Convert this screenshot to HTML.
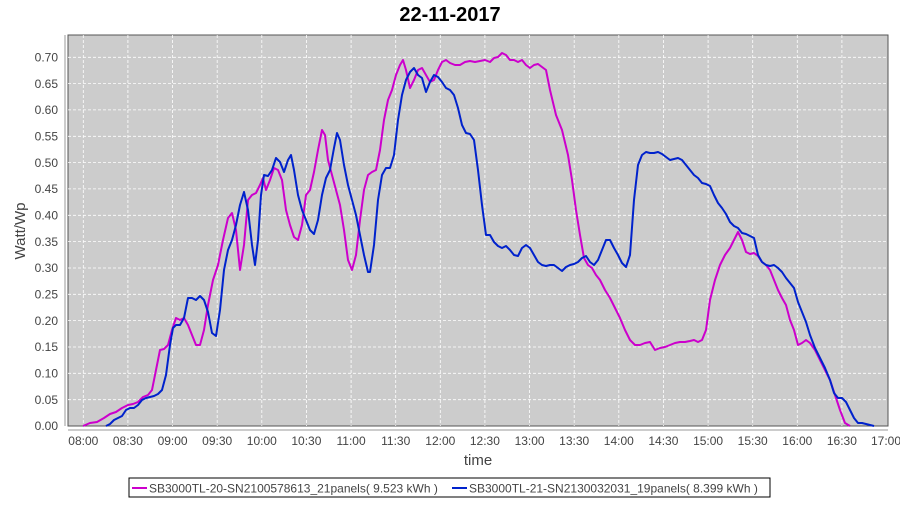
<!DOCTYPE html>
<html><head><meta charset="utf-8"><style>
body{margin:0;background:#fff;font-family:"Liberation Sans",sans-serif;}
</style></head><body>
<svg width="900" height="500" xmlns="http://www.w3.org/2000/svg" font-family="Liberation Sans, sans-serif">
<rect width="900" height="500" fill="#fff"/>
<text x="450" y="21" text-anchor="middle" font-size="20" font-weight="bold" fill="#000">22-11-2017</text>
<rect x="68" y="35" width="820" height="391" fill="#cccccc" stroke="#555" stroke-width="1"/>
<g stroke="#fff" stroke-width="0.8" stroke-dasharray="3,2">
<line x1="68" x2="888" y1="399.7" y2="399.7"/><line x1="68" x2="888" y1="373.3" y2="373.3"/><line x1="68" x2="888" y1="347" y2="347"/><line x1="68" x2="888" y1="320.6" y2="320.6"/><line x1="68" x2="888" y1="294.3" y2="294.3"/><line x1="68" x2="888" y1="268" y2="268"/><line x1="68" x2="888" y1="241.6" y2="241.6"/><line x1="68" x2="888" y1="215.3" y2="215.3"/><line x1="68" x2="888" y1="188.9" y2="188.9"/><line x1="68" x2="888" y1="162.6" y2="162.6"/><line x1="68" x2="888" y1="136.3" y2="136.3"/><line x1="68" x2="888" y1="109.9" y2="109.9"/><line x1="68" x2="888" y1="83.6" y2="83.6"/><line x1="68" x2="888" y1="57.3" y2="57.3"/>
<line y1="35" y2="426" x1="83.3" x2="83.3"/><line y1="35" y2="426" x1="127.9" x2="127.9"/><line y1="35" y2="426" x1="172.6" x2="172.6"/><line y1="35" y2="426" x1="217.2" x2="217.2"/><line y1="35" y2="426" x1="261.8" x2="261.8"/><line y1="35" y2="426" x1="306.4" x2="306.4"/><line y1="35" y2="426" x1="351.1" x2="351.1"/><line y1="35" y2="426" x1="395.7" x2="395.7"/><line y1="35" y2="426" x1="440.3" x2="440.3"/><line y1="35" y2="426" x1="484.9" x2="484.9"/><line y1="35" y2="426" x1="529.6" x2="529.6"/><line y1="35" y2="426" x1="574.2" x2="574.2"/><line y1="35" y2="426" x1="618.8" x2="618.8"/><line y1="35" y2="426" x1="663.4" x2="663.4"/><line y1="35" y2="426" x1="708.1" x2="708.1"/><line y1="35" y2="426" x1="752.7" x2="752.7"/><line y1="35" y2="426" x1="797.3" x2="797.3"/><line y1="35" y2="426" x1="841.9" x2="841.9"/>
</g>
<g stroke="#999" stroke-width="1">
<line x1="65" y1="35" x2="65" y2="426"/><line x1="68" y1="430" x2="888" y2="430"/>
</g>
<g font-size="12" fill="#444" text-anchor="end">
<text x="58" y="430">0.00</text><text x="58" y="404">0.05</text><text x="58" y="377.5">0.10</text><text x="58" y="351">0.15</text><text x="58" y="325">0.20</text><text x="58" y="298.5">0.25</text><text x="58" y="272">0.30</text><text x="58" y="246">0.35</text><text x="58" y="219.5">0.40</text><text x="58" y="193">0.45</text><text x="58" y="167">0.50</text><text x="58" y="140.5">0.55</text><text x="58" y="114">0.60</text><text x="58" y="88">0.65</text><text x="58" y="61.5">0.70</text>
</g>
<g font-size="12" fill="#444" text-anchor="middle">
<text x="83.3" y="445">08:00</text><text x="127.9" y="445">08:30</text><text x="172.6" y="445">09:00</text><text x="217.2" y="445">09:30</text><text x="261.8" y="445">10:00</text><text x="306.4" y="445">10:30</text><text x="351.1" y="445">11:00</text><text x="395.7" y="445">11:30</text><text x="440.3" y="445">12:00</text><text x="484.9" y="445">12:30</text><text x="529.6" y="445">13:00</text><text x="574.2" y="445">13:30</text><text x="618.8" y="445">14:00</text><text x="663.4" y="445">14:30</text><text x="708.1" y="445">15:00</text><text x="752.7" y="445">15:30</text><text x="797.3" y="445">16:00</text><text x="841.9" y="445">16:30</text><text x="886" y="445">17:00</text>
</g>
<text x="478" y="465" text-anchor="middle" font-size="15" fill="#444">time</text>
<text transform="translate(25,231) rotate(-90)" text-anchor="middle" font-size="15" fill="#444">Watt/Wp</text>
<polyline fill="none" stroke="#cc00cc" stroke-width="2" stroke-linejoin="round" points="83,426 90,423 97,422 104,418 110,414 116,412 122,408 128,405 133,404 138,402 143,397 148,395 152,390 156,370 160,350 164,349 168,345 172,330 176,318 180,320 184,318 188,325 192,335 196,345 200,345 204,330 208,305 213,280 218,265 223,240 228,218 232,213 236,230 240,270 244,245 248,200 252,195 256,193 260,185 263,178 266,190 270,180 274,168 278,170 282,180 286,210 290,225 294,237 298,240 302,225 306,195 310,190 314,172 318,150 322,130 325,135 328,160 332,175 336,190 340,205 344,230 348,260 352,270 356,255 360,220 364,190 368,175 372,172 376,170 380,150 384,120 388,100 392,90 396,75 400,65 403,60 406,70 410,88 414,80 418,70 422,68 426,75 430,82 434,80 438,70 442,62 446,60 450,63 455,65 460,65 465,62 470,61 475,62 480,61 485,60 490,62 494,58 498,57 502,53 506,55 510,60 514,60 518,62 522,60 526,65 530,68 534,65 538,64 542,67 546,70 550,90 556,115 562,130 568,155 572,180 576,210 580,235 584,258 588,265 592,268 596,275 600,280 605,290 610,298 615,308 620,318 625,330 630,340 635,345 640,345 645,343 650,342 655,350 660,348 665,347 670,345 675,343 680,342 685,342 690,341 694,340 698,342 702,340 706,330 710,300 715,280 720,265 725,255 730,248 734,240 738,232 742,240 746,252 750,254 754,253 758,256 762,262 766,265 770,270 774,280 778,290 782,298 786,305 790,320 794,330 798,345 802,343 806,340 810,343 815,350 820,360 825,370 830,380 835,395 840,410 845,423 850,426"/>
<polyline fill="none" stroke="#0022cc" stroke-width="2" stroke-linejoin="round" points="106,426 110,424 114,420 118,418 122,416 126,410 130,408 134,408 138,405 142,400 146,398 150,397 154,396 158,394 162,390 166,375 170,345 173,328 176,325 180,325 184,318 188,298 192,298 196,300 200,296 204,300 208,312 212,333 216,336 220,310 224,270 228,250 232,240 236,225 240,205 244,192 248,210 252,245 255,265 258,240 261,195 264,175 268,176 272,170 276,158 280,162 284,172 288,160 291,155 294,170 298,195 302,210 306,220 310,230 314,234 318,220 322,195 326,178 330,170 334,148 337,133 340,140 344,165 348,185 352,200 356,215 360,235 364,255 368,272 370,272 374,245 378,200 382,175 386,168 390,168 394,155 398,120 402,95 406,80 410,72 414,68 418,75 422,78 426,92 430,82 434,75 438,77 442,82 446,88 450,90 454,95 458,108 462,125 466,133 470,134 474,140 478,170 482,205 486,235 490,235 494,242 498,246 502,248 506,246 510,250 514,255 518,256 522,248 526,245 530,248 534,255 538,262 542,265 546,266 550,265 554,265 558,268 562,271 566,267 570,265 574,264 578,262 582,258 586,256 590,262 594,265 598,260 602,250 606,240 610,240 614,248 618,255 622,263 626,267 630,255 634,200 638,165 642,155 646,152 650,153 654,153 658,152 662,154 666,157 670,160 674,159 678,158 682,160 686,165 690,170 694,175 698,178 702,183 706,184 710,186 714,195 718,203 722,208 726,214 730,222 734,226 738,228 742,233 746,234 750,236 754,238 758,255 762,262 766,265 770,266 774,265 778,268 782,272 786,278 790,283 794,288 798,302 802,312 806,322 810,335 815,348 820,358 825,368 830,380 834,393 838,398 842,398 846,402 850,410 854,418 858,423 862,423 866,424 870,425 874,426"/>
<rect x="129" y="478" width="641" height="19" fill="#fff" stroke="#000" stroke-width="1"/>
<line x1="132" y1="488" x2="147" y2="488" stroke="#cc00cc" stroke-width="2"/>
<text x="149" y="492.5" font-size="12" fill="#444">SB3000TL-20-SN2100578613_21panels( 9.523 kWh )</text>
<line x1="452" y1="488" x2="467" y2="488" stroke="#0022cc" stroke-width="2"/>
<text x="469" y="492.5" font-size="12" fill="#444">SB3000TL-21-SN2130032031_19panels( 8.399 kWh )</text>
</svg>
</body></html>
